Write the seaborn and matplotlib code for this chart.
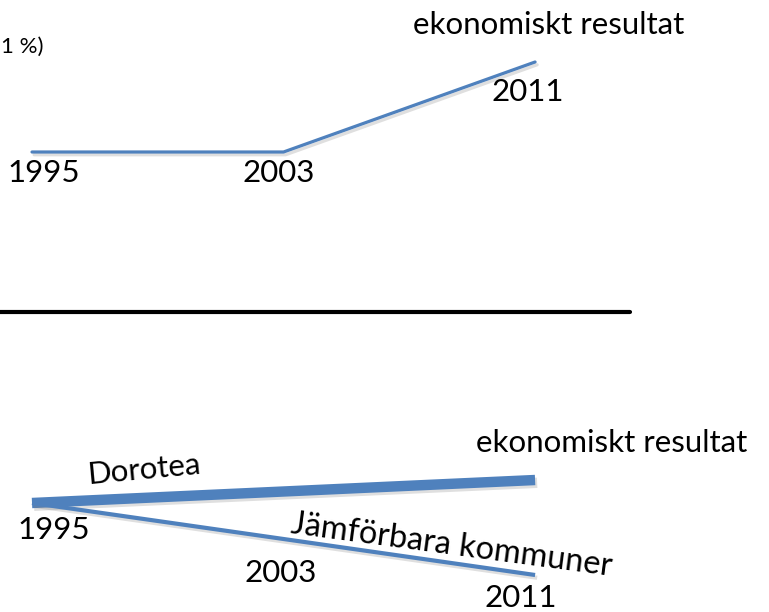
import seaborn as sns
import matplotlib.pyplot as plt
import matplotlib.patheffects as pe

# slide-style sketch: economic result over time, Dorotea vs comparable municipalities
years = [1995, 2003, 2011]
top_vals = [0.0, 0.0, 9.0]          # upper sketch (index units)
dorotea_years = [1995, 2011]
dorotea_vals = [0.0, 2.3]
jamfor_vals = [0.0, -3.6, -7.2]
year_labels = ['1995', '2003', '2011']

BLUE = '#4F81BD'

sns.set_theme(style='white')
plt.rcParams['font.family'] = ['Lato', 'DejaVu Sans']
plt.rcParams['text.color'] = 'black'

fig = plt.figure(figsize=(7.69, 6.12), dpi=100)
ax_top = fig.add_axes([0, 0.5, 1, 0.5])
ax_bot = fig.add_axes([0, 0, 1, 0.5])

xlim = (1993.982, 2018.44)
ax_top.set_xlim(*xlim)
ax_bot.set_xlim(*xlim)
ax_top.set_ylim(-15.4, 15.2)
ax_bot.set_ylim(-10.9, 19.7)

shadow = [pe.SimpleLineShadow(offset=(1.5, -2), shadow_color='gray', alpha=0.25), pe.Normal()]

sns.lineplot(x=years, y=top_vals, ax=ax_top, color=BLUE, linewidth=2.3,
             path_effects=shadow)
sns.lineplot(x=dorotea_years, y=dorotea_vals, ax=ax_bot, color=BLUE,
             linewidth=7.5, solid_capstyle='butt', path_effects=shadow)
sns.lineplot(x=years, y=jamfor_vals, ax=ax_bot, color=BLUE, linewidth=3,
             solid_capstyle='butt', path_effects=shadow)

fs = 22.5
# upper labels
ax_top.text(2011.44, 12.7, 'ekonomiskt resultat', fontsize=fs, ha='center', va='center')
ax_top.text(years[2] - 0.22, top_vals[2] - 3.0, year_labels[2], fontsize=fs, ha='center', va='center')
ax_top.text(years[0] + 0.38, top_vals[0] - 2.1, year_labels[0], fontsize=fs, ha='center', va='center')
ax_top.text(years[1] - 0.14, top_vals[1] - 2.1, year_labels[1], fontsize=fs, ha='center', va='center')
fig.text(1 / 769, 1 - 47 / 612, '1 %)', fontsize=16, ha='left', va='center')

# divider
ax_bot.axhline(19.1, xmin=0, xmax=630 / 769, color='black', linewidth=3)

# lower labels
ax_bot.text(2013.45, 6.0, 'ekonomiskt resultat', fontsize=fs, ha='center', va='center')
ax_bot.text(1998.56, 3.3, 'Dorotea', fontsize=fs, ha='center', va='center', rotation=5.3)
ax_bot.text(2008.35, -4.2, 'Jämförbara kommuner', fontsize=23.5, ha='center', va='center',
            rotation=-7.6)
ax_bot.text(years[0] + 0.7, -2.7, year_labels[0], fontsize=fs, ha='center', va='center')
ax_bot.text(years[1] - 0.1, -7.0, year_labels[1], fontsize=fs, ha='center', va='center')
ax_bot.text(years[2] - 0.45, -9.5, year_labels[2], fontsize=fs, ha='center', va='center')

for ax in (ax_top, ax_bot):
    ax.set_axis_off()

fig.savefig('out.png', dpi=100)
